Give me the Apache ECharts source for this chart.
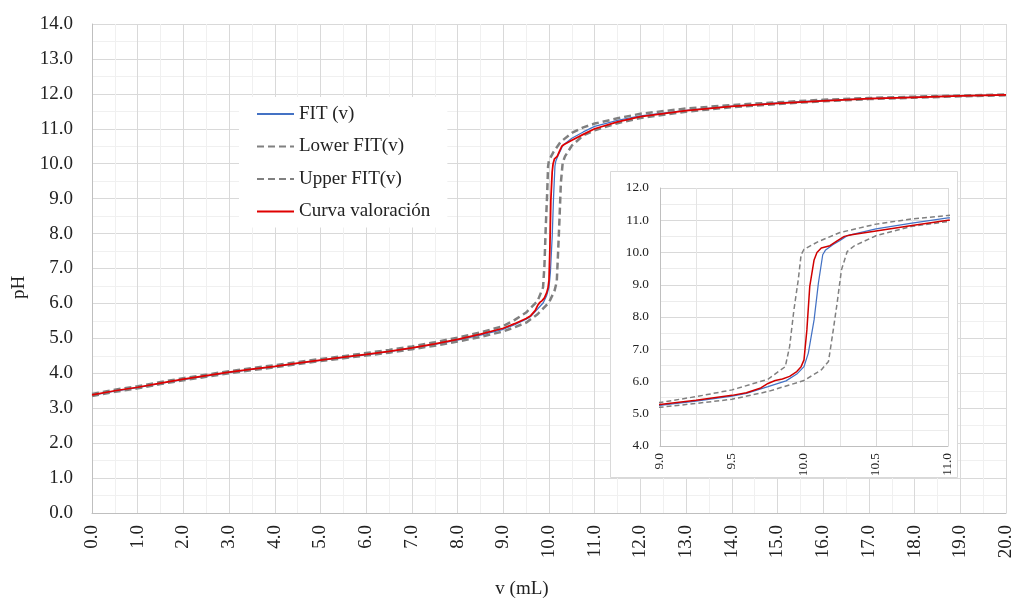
<!DOCTYPE html>
<html><head><meta charset="utf-8">
<script src="https://cdn.jsdelivr.net/npm/echarts@6/dist/echarts.min.js"></script>
<style>html,body{margin:0;padding:0;background:#fff}#c{width:1015px;height:599px}</style>
</head><body><div id="c"></div>
<script>
// ---- data ----
const seriesNames = ['FIT (v)', 'Lower FIT(v)', 'Upper FIT(v)', 'Curva valoración'];

const vFit  = [0,0.5,1,1.5,2,2.5,3,3.5,4,4.5,5,5.5,6,6.5,7,7.5,8,8.5,9,9.25,9.5,9.6,9.75,9.875,9.95,10.0,10.03,10.07,10.1,10.13,10.15,10.2,10.25,10.3,10.5,10.75,11,11.5,12,13,14,15,16,17,18,19,20];
const phFit = [3.37,3.49,3.59,3.71,3.82,3.92,4.02,4.11,4.19,4.28,4.37,4.45,4.53,4.62,4.72,4.83,4.95,5.09,5.26,5.39,5.55,5.63,5.84,6.02,6.23,6.46,6.88,7.91,9.05,9.93,10.08,10.24,10.37,10.52,10.73,10.91,11.07,11.24,11.37,11.53,11.65,11.74,11.81,11.86,11.91,11.94,11.97];

const vLower  = [0,0.5,1,1.5,2,2.5,3,3.5,4,4.5,5,5.5,6,6.5,7,7.5,8,8.5,9,9.25,9.5,9.75,10.0,10.12,10.17,10.2,10.23,10.26,10.3,10.35,10.5,10.75,11,11.5,12,13,14,15,16,17,18,19,20];
const phLower = [3.35,3.47,3.57,3.69,3.80,3.90,4.00,4.09,4.17,4.26,4.35,4.43,4.51,4.59,4.69,4.79,4.91,5.04,5.20,5.32,5.45,5.69,6.03,6.36,6.62,7.50,8.43,9.46,10.03,10.21,10.52,10.81,10.96,11.16,11.31,11.49,11.62,11.71,11.79,11.85,11.89,11.93,11.96];

const vUpper  = [0,0.5,1,1.5,2,2.5,3,3.5,4,4.5,5,5.5,6,6.5,7,7.5,8,8.5,9,9.25,9.5,9.75,9.87,9.9,9.93,9.96,9.98,10.0,10.1,10.25,10.5,10.75,11,11.5,12,13,14,15,16,17,18,19,20];
const phUpper = [3.41,3.53,3.63,3.75,3.86,3.96,4.06,4.15,4.23,4.32,4.41,4.49,4.58,4.67,4.77,4.89,5.02,5.17,5.35,5.53,5.74,6.07,6.46,7.08,8.22,9.15,9.93,10.10,10.34,10.62,10.88,11.04,11.15,11.30,11.43,11.58,11.68,11.76,11.83,11.88,11.92,11.95,11.98];

const vCurve  = [0,0.5,1,1.5,2,2.5,3,3.5,4,4.5,5,5.5,6,6.5,7,7.5,8,8.5,9,9.25,9.5,9.6,9.7,9.75,9.8,9.85,9.9,9.95,9.98,10.0,10.02,10.04,10.07,10.09,10.12,10.18,10.23,10.28,10.33,10.5,10.75,11,11.5,12,13,14,15,16,17,18,19,20];
const phCurve = [3.38,3.50,3.60,3.72,3.83,3.93,4.03,4.12,4.20,4.29,4.38,4.46,4.54,4.63,4.73,4.84,4.97,5.12,5.29,5.42,5.57,5.65,5.80,5.94,6.03,6.08,6.16,6.31,6.46,6.67,7.60,8.95,9.77,10.00,10.14,10.21,10.36,10.50,10.55,10.67,10.84,11.00,11.20,11.35,11.52,11.64,11.73,11.80,11.86,11.90,11.94,11.97];

// ---- build ----
const zip = (xs, ys) => xs.map((x, i) => [x, ys[i]]);
const FONT = 'Liberation Serif';
const TXT = '#222';
const data = [zip(vFit, phFit), zip(vLower, phLower), zip(vUpper, phUpper), zip(vCurve, phCurve)];

function mainStyle(i) {
  if (i === 0) return { color: '#4472c4', width: 1.25, type: 'solid' };
  if (i === 3) return { color: '#e00000', width: 1.75, type: 'solid' };
  return { color: '#808080', width: 2.5, type: [7, 4] };
}
function insetStyle(i) {
  if (i === 0) return { color: '#4472c4', width: 1.25, type: 'solid' };
  if (i === 3) return { color: '#d00000', width: 1.5, type: 'solid' };
  return { color: '#808080', width: 1.5, type: [5, 3] };
}

const series = [];
seriesNames.forEach((n, i) => {
  const ms = mainStyle(i);
  series.push({ name: n, type: 'line', xAxisIndex: 0, yAxisIndex: 0, data: data[i],
    symbol: 'none', showSymbol: false, z: 2, color: ms.color, lineStyle: ms });
});
seriesNames.forEach((n, i) => {
  const is = insetStyle(i);
  series.push({ name: n, type: 'line', xAxisIndex: 1, yAxisIndex: 1, data: data[i],
    symbol: 'none', showSymbol: false, z: 6, color: is.color, lineStyle: is });
});

const fmt1 = v => v.toFixed(1);
const mainLabel = { fontFamily: FONT, fontSize: 19, color: TXT, formatter: fmt1 };
const insetLabel = { fontFamily: FONT, fontSize: 13.3, color: TXT, formatter: fmt1 };

const option = {
  animation: false,
  backgroundColor: '#fff',
  grid: [
    { left: 92, right: 9, top: 24, bottom: 86, outerBoundsMode: 'none', containLabel: false },
    { left: 660, width: 288, top: 188, height: 258, outerBoundsMode: 'none', containLabel: false }
  ],
  graphic: [{
    type: 'rect', z: 3, zlevel: 0,
    shape: { x: 610.5, y: 171.5, width: 347, height: 306 },
    style: { fill: '#fff', stroke: '#d9d9d9', lineWidth: 1 }
  }],
  legend: {
    data: seriesNames, orient: 'vertical', left: 239, top: 97,
    backgroundColor: '#fff', padding: [6, 17, 5, 17],
    itemWidth: 37, itemHeight: 14, itemGap: 10.5,
    itemStyle: { opacity: 0, borderWidth: 0 },
    textStyle: { fontFamily: FONT, fontSize: 19, color: TXT, lineHeight: 22 },
    z: 10
  },
  xAxis: [
    { type: 'value', gridIndex: 0, min: 0, max: 20, interval: 1, z: 0,
      axisLine: { show: true, lineStyle: { color: '#bfbfbf' } }, axisTick: { show: false },
      axisLabel: Object.assign({ rotate: 90, margin: 12 }, mainLabel),
      splitLine: { show: true, lineStyle: { color: '#d9d9d9' } },
      minorTick: { show: false, splitNumber: 2 },
      minorSplitLine: { show: true, lineStyle: { color: '#f0f0f0' } },
      name: 'v (mL)', nameLocation: 'middle', nameGap: 67,
      nameTextStyle: { fontFamily: FONT, fontSize: 19, color: TXT, padding: [0, 54, 0, 0] } },
    { type: 'value', gridIndex: 1, min: 9, max: 11, interval: 0.5, z: 5,
      axisLine: { show: true, lineStyle: { color: '#bfbfbf' } }, axisTick: { show: false },
      axisLabel: Object.assign({ rotate: 90, margin: 7 }, insetLabel),
      splitLine: { show: true, lineStyle: { color: '#d9d9d9' } },
      minorTick: { show: false, splitNumber: 2 },
      minorSplitLine: { show: true, lineStyle: { color: '#e4e4e4' } } }
  ],
  yAxis: [
    { type: 'value', gridIndex: 0, min: 0, max: 14, interval: 1, z: 0,
      axisLine: { show: true, lineStyle: { color: '#bfbfbf' } }, axisTick: { show: false },
      axisLabel: Object.assign({ margin: 19 }, mainLabel),
      splitLine: { show: true, lineStyle: { color: '#d9d9d9' } },
      minorTick: { show: false, splitNumber: 2 },
      minorSplitLine: { show: true, lineStyle: { color: '#f0f0f0' } },
      name: 'pH', nameLocation: 'middle', nameGap: 51,
      nameTextStyle: { fontFamily: FONT, fontSize: 19, color: TXT, padding: [0, 38, 0, 0] } },
    { type: 'value', gridIndex: 1, min: 4, max: 12, interval: 1, z: 5,
      axisLine: { show: true, lineStyle: { color: '#bfbfbf' } }, axisTick: { show: false },
      axisLabel: Object.assign({ margin: 11 }, insetLabel),
      splitLine: { show: true, lineStyle: { color: '#d9d9d9' } },
      minorTick: { show: false, splitNumber: 2 },
      minorSplitLine: { show: true, lineStyle: { color: '#ececec' } } }
  ],
  series: series
};

const chart = echarts.init(document.getElementById('c'), null, { renderer: 'canvas' });
chart.setOption(option);
</script>
</body></html>
